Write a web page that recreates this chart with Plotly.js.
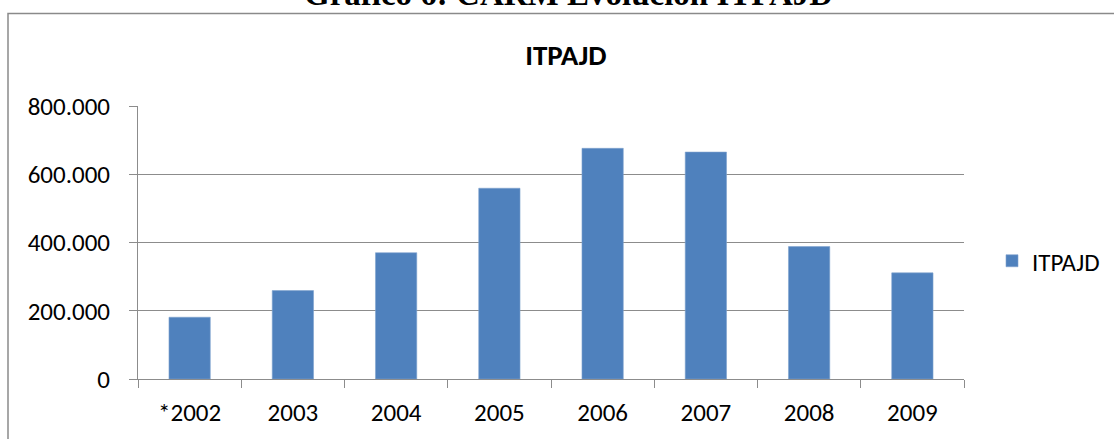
<!DOCTYPE html>
<html>
<head>
<meta charset="utf-8">
<script src="https://cdn.plot.ly/plotly-3.0.1.min.js"></script>
<style>
html,body{margin:0;padding:0;background:#fff;}
#chart{width:1114px;height:439px;}
</style>
</head>
<body>
<div id="chart"></div>
<script>
const categories = ["*2002", "2003", "2004", "2005", "2006", "2007", "2008", "2009"];
const itpajd = [181000, 259000, 370000, 559000, 676000, 665000, 388000, 311000];
const seriesName = "ITPAJD";
const chartTitle = "ITPAJD";
const headerTitle = "Gráfico 6: CARM Evolución ITPAJD";

const FONT = "Carlito, Lato, 'Open Sans', sans-serif";
const GRID = "#8c8c8c";

const trace = {
  type: "bar",
  x: categories,
  y: itpajd,
  name: seriesName,
  marker: {color: "#4f81bd", line: {color: "#7fa3cf", width: 0.6}},
  showlegend: true
};

const layout = {
  width: 1114, height: 439,
  margin: {l: 138, r: 150, t: 106, b: 60, autoexpand: false},
  paper_bgcolor: "#ffffff",
  plot_bgcolor: "#ffffff",
  separators: ",.",
  font: {family: FONT, size: 25, color: "#000"},
  bargap: 0.6,
  title: {
    text: "<b>" + chartTitle + "</b>",
    font: {family: FONT, size: 29, color: "#000"},
    x: 0.508, xanchor: "center",
    y: 1 - 55/439, yanchor: "middle",
    yref: "container", xref: "container"
  },
  xaxis: {
    type: "category",
    showline: true, linecolor: GRID, linewidth: 1,
    ticks: "outside", ticklen: 8, tickcolor: GRID, tickwidth: 1,
    tickson: "boundaries",
    showgrid: false, zeroline: false,
    ticklabelstandoff: 11,
    tickfont: {family: FONT, size: 25, color: "#000"}
  },
  yaxis: {
    range: [0, 800000],
    tickvals: [0, 200000, 400000, 600000, 800000],
    tickformat: ",.0f",
    showline: true, linecolor: GRID, linewidth: 1,
    ticks: "outside", ticklen: 8, tickcolor: GRID, tickwidth: 1,
    showgrid: true, gridcolor: GRID, gridwidth: 1,
    zeroline: false,
    ticklabelstandoff: 14,
    tickfont: {family: FONT, size: 25, color: "#000"}
  },
  legend: {
    x: (992 - 138) / 826, xanchor: "left",
    y: (379 - 261) / 273, yanchor: "middle",
    font: {family: FONT, size: 25, color: "#000"},
    bgcolor: "rgba(0,0,0,0)"
  },
  shapes: [{
    type: "rect", xref: "paper", yref: "paper", layer: "below",
    x0: (8 - 138) / 826, x1: 1.5,
    y0: -1, y1: (379 - 13.5) / 273,
    line: {color: "#8a8a8a", width: 1.5},
    fillcolor: "rgba(0,0,0,0)"
  }],
  annotations: [{
    text: "<b>" + headerTitle + "</b>",
    xref: "paper", yref: "paper",
    x: (568 - 138) / 826, xanchor: "center",
    y: (379 + 6) / 273, yanchor: "middle",
    showarrow: false,
    font: {family: "'Liberation Serif', 'Times New Roman', serif", size: 33, color: "#000"}
  }]
};

Plotly.newPlot("chart", [trace], layout, {displayModeBar: false, staticPlot: true});
</script>
</body>
</html>
